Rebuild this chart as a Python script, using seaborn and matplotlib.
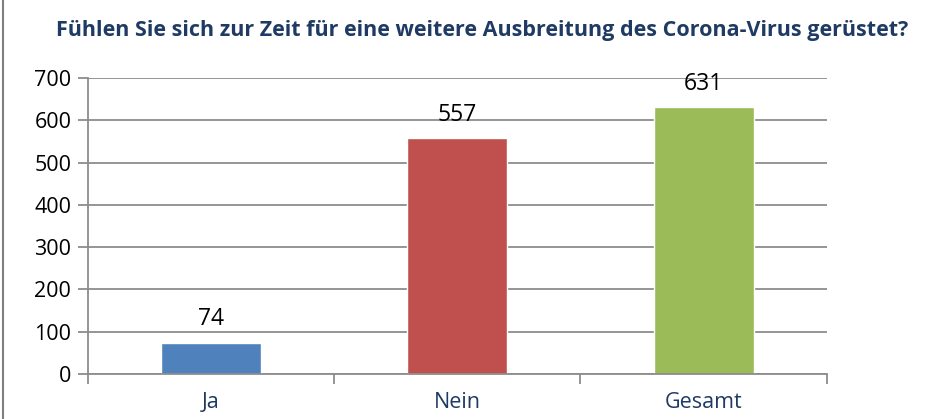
import matplotlib.pyplot as plt
import seaborn as sns
import pandas as pd

kategorien = ['Ja', 'Nein', 'Gesamt']
anzahl = [74, 557, 631]
farben = ['#4F81BD', '#C0504D', '#9BBB59']

df = pd.DataFrame({'Antwort': kategorien, 'Anzahl': anzahl})

sns.set_style('white')
plt.rcParams['font.family'] = ['Open Sans', 'DejaVu Sans']

fig = plt.figure(figsize=(9.25, 4.19), dpi=100)
ax = fig.add_axes([0.0951, 0.1074, 0.7987, 0.7064])

sns.barplot(data=df, x='Antwort', y='Anzahl', hue='Antwort', palette=farben,
            width=0.405, legend=False, ax=ax, saturation=1)

grau = '#8C8C8C'
ax.set_ylim(0, 700)
ax.set_xlim(-0.5, 2.5)
ax.set_yticks(range(0, 701, 100))
ax.yaxis.grid(True, color=grau, linewidth=1.3)
ax.set_axisbelow(True)
for s in ['top', 'right']:
    ax.spines[s].set_visible(False)
for s in ['left', 'bottom']:
    ax.spines[s].set_color(grau)
    ax.spines[s].set_linewidth(1.3)

ax.tick_params(axis='y', left=True, length=7, width=1.3, color=grau,
               labelsize=15.5, labelcolor='black', pad=5)
ax.tick_params(axis='x', which='major', length=0, labelsize=15.5,
               labelcolor='#1F3B63', pad=13)
ax.set_xticks([-0.5, 0.5, 1.5, 2.5], minor=True)
ax.tick_params(axis='x', which='minor', bottom=True, length=7, width=1.3, color=grau)
ax.set_xlabel('')
ax.set_ylabel('')

for i, v in enumerate(anzahl):
    ax.text(i, v + 55, str(v), ha='center', va='center', fontsize=16.5, color='black')

fig.text(0.521, 0.928, 'Fühlen Sie sich zur Zeit für eine weitere Ausbreitung des Corona-Virus gerüstet?',
         ha='center', va='center', fontsize=15.5, fontweight='bold', color='#1F3B63')

fig.add_artist(plt.Line2D([0.003, 0.003], [0, 1], transform=fig.transFigure,
                          color='#7F7F7F', linewidth=1.5))

fig.savefig('out.png', dpi=100)
